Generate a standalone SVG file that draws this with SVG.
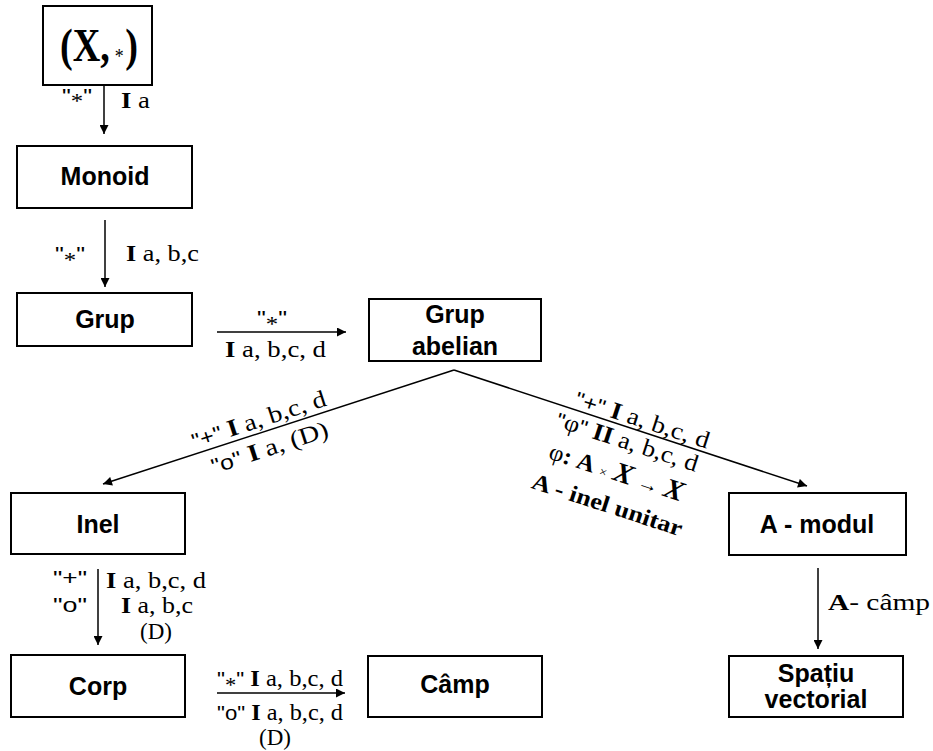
<svg xmlns="http://www.w3.org/2000/svg" width="933" height="751" viewBox="0 0 933 751">
<style>
.box{fill:#fff;stroke:#000;stroke-width:2}
.nt{font-family:"Liberation Sans",Arial,sans-serif;font-weight:bold;font-size:25px;text-anchor:middle;fill:#000}
.lb{font-family:"Liberation Serif","Times New Roman",serif;font-size:23px;fill:#000}
.dg{font-size:24px}
.q{font-family:"Liberation Sans",Arial,sans-serif;font-size:21px}
.b{font-weight:bold}
.conn{stroke:#000;stroke-width:1.5;fill:none}
</style>
<defs>
<marker id="ah" viewBox="0 0 10 10" refX="10" refY="5" markerWidth="10" markerHeight="9" orient="auto" markerUnits="userSpaceOnUse"><path d="M0,0 L10,5 L0,10 z" fill="#000"/></marker>
</defs>
<rect width="933" height="751" fill="#fff"/>

<g id="n-xstar">
<rect class="box" x="43" y="6" width="109" height="79"/>
<text x="60" y="61" font-family="Liberation Serif,'Times New Roman',serif" font-weight="bold" font-size="47" textLength="78" lengthAdjust="spacingAndGlyphs">(X,<tspan dx="6" dy="2" font-size="22" font-weight="normal">*</tspan><tspan dx="2" dy="-2">)</tspan></text>
</g>
<g id="n-monoid">
<rect class="box" x="17" y="146" width="175" height="62"/>
<text class="nt" x="105" y="185">Monoid</text>
</g>
<g id="n-grup">
<rect class="box" x="17" y="293" width="175" height="53"/>
<text class="nt" x="105" y="328">Grup</text>
</g>
<g id="n-grupab">
<rect class="box" x="369" y="299" width="172" height="62"/>
<text class="nt" x="455" y="323">Grup</text>
<text class="nt" x="455" y="355">abelian</text>
</g>
<g id="n-inel">
<rect class="box" x="11" y="493" width="174" height="61"/>
<text class="nt" x="98" y="533">Inel</text>
</g>
<g id="n-amodul">
<rect class="box" x="729" y="493" width="177" height="62"/>
<text class="nt" x="817" y="533">A - modul</text>
</g>
<g id="n-corp">
<rect class="box" x="11" y="655" width="174" height="62"/>
<text class="nt" x="98" y="695">Corp</text>
</g>
<g id="n-camp">
<rect class="box" x="368" y="656" width="174" height="61"/>
<text class="nt" x="455" y="693">Câmp</text>
</g>
<g id="n-spatiu">
<rect class="box" x="729" y="656" width="174" height="61"/>
<text class="nt" x="816" y="682">Spațiu</text>
<text class="nt" x="816" y="708">vectorial</text>
</g>

<g id="connectors">
<line class="conn" x1="104" y1="85" x2="104" y2="134" marker-end="url(#ah)"/>
<line class="conn" x1="105" y1="220" x2="105" y2="287" marker-end="url(#ah)"/>
<line class="conn" x1="217" y1="332" x2="346" y2="332" marker-end="url(#ah)"/>
<line class="conn" x1="454" y1="370" x2="103" y2="484" marker-end="url(#ah)"/>
<line class="conn" x1="454" y1="370" x2="807" y2="486" marker-end="url(#ah)"/>
<line class="conn" x1="98" y1="569" x2="98" y2="645" marker-end="url(#ah)"/>
<line class="conn" x1="217" y1="693" x2="345" y2="693" marker-end="url(#ah)"/>
<line class="conn" x1="818" y1="568" x2="818" y2="649" marker-end="url(#ah)"/>
</g>

<g id="labels">
<text class="lb" x="62" y="103" textLength="30" lengthAdjust="spacingAndGlyphs"><tspan class="q">"</tspan><tspan dy="5" font-size="21">*</tspan><tspan class="q" dy="-5">"</tspan></text>
<text class="lb" x="121" y="108" font-size="19" textLength="29" lengthAdjust="spacingAndGlyphs"><tspan class="b">I</tspan> a</text>

<text class="lb" x="55" y="261" textLength="30" lengthAdjust="spacingAndGlyphs"><tspan class="q">"</tspan><tspan dy="6" font-size="21">*</tspan><tspan class="q" dy="-6">"</tspan></text>
<text class="lb" x="126" y="261" textLength="73" lengthAdjust="spacingAndGlyphs"><tspan class="b">I</tspan> a, b,c</text>

<text class="lb" x="257" y="325" textLength="30" lengthAdjust="spacingAndGlyphs"><tspan class="q">"</tspan><tspan dy="6" font-size="21">*</tspan><tspan class="q" dy="-6">"</tspan></text>
<text class="lb" x="225" y="357" textLength="101" lengthAdjust="spacingAndGlyphs"><tspan class="b">I</tspan> a, b,c, d</text>

<text class="lb dg" x="261" y="427" text-anchor="middle" textLength="140" lengthAdjust="spacingAndGlyphs" transform="rotate(-18 261 427)"><tspan class="q">"+"</tspan> <tspan class="b">I</tspan> a, b,c, d</text>
<text class="lb dg" x="272" y="455" text-anchor="middle" textLength="122" lengthAdjust="spacingAndGlyphs" transform="rotate(-18 272 455)"><tspan class="q">"o"</tspan> <tspan class="b">I</tspan> a, (D)</text>

<text class="lb dg" x="640" y="427" text-anchor="middle" textLength="140" lengthAdjust="spacingAndGlyphs" transform="rotate(18 640 427)"><tspan class="q">"+"</tspan> <tspan class="b">I</tspan> a, b,c, d</text>
<text class="lb dg" x="625" y="449" text-anchor="middle" textLength="148" lengthAdjust="spacingAndGlyphs" transform="rotate(18 625 449)"><tspan class="q">"</tspan>φ<tspan class="q">"</tspan> <tspan class="b">II</tspan> a, b,c, d</text>
<text class="lb dg" x="614" y="480" text-anchor="middle" textLength="140" lengthAdjust="spacingAndGlyphs" transform="rotate(18 614 480)">φ<tspan class="b">:</tspan> <tspan class="b">A</tspan> <tspan font-size="13">×</tspan> <tspan class="b" font-style="italic" font-size="28">X</tspan> <tspan font-size="20">→</tspan> <tspan class="b" font-style="italic" font-size="28">X</tspan></text>
<text class="lb b" x="605" y="512" text-anchor="middle" font-size="25" textLength="157" lengthAdjust="spacingAndGlyphs" transform="rotate(18 605 512)">A - inel unitar</text>

<text class="lb" x="53" y="585" textLength="34" lengthAdjust="spacingAndGlyphs"><tspan class="q">"+"</tspan></text>
<text class="lb" x="106" y="588" textLength="100" lengthAdjust="spacingAndGlyphs"><tspan class="b">I</tspan> a, b,c, d</text>
<text class="lb" x="53" y="612" textLength="34" lengthAdjust="spacingAndGlyphs"><tspan class="q">"o"</tspan></text>
<text class="lb" x="121" y="613" textLength="72" lengthAdjust="spacingAndGlyphs"><tspan class="b">I</tspan> a, b,c</text>
<text class="lb" x="156" y="639" text-anchor="middle">(D)</text>

<text class="lb" x="217" y="686" textLength="126" lengthAdjust="spacingAndGlyphs"><tspan class="q">"</tspan><tspan dy="6" font-size="21">*</tspan><tspan class="q" dy="-6">"</tspan> <tspan class="b">I</tspan> a, b,c, d</text>
<text class="lb" x="217" y="720" textLength="126" lengthAdjust="spacingAndGlyphs"><tspan class="q">"o"</tspan> <tspan class="b">I</tspan> a, b,c, d</text>
<text class="lb" x="275" y="745" text-anchor="middle">(D)</text>

<text class="lb" x="828" y="610" font-size="28" textLength="102" lengthAdjust="spacingAndGlyphs"><tspan class="b">A</tspan>- câmp</text>
</g>
</svg>
